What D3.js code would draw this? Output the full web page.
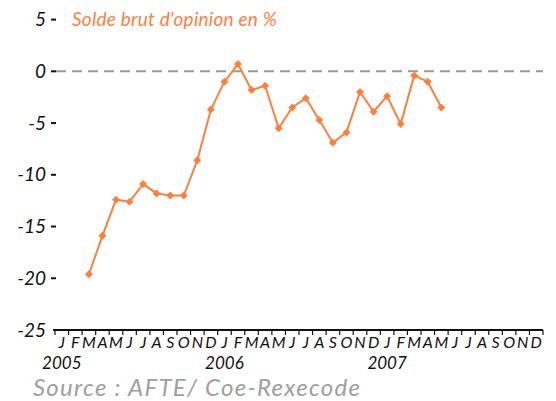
<!DOCTYPE html>
<html><head><meta charset="utf-8">
<script src="https://cdn.jsdelivr.net/npm/d3@7"></script>
<style>body{margin:0;background:#fff}svg{display:block}text{font-family:Lato,"Open Sans",sans-serif;font-style:italic}</style>
</head><body>
<svg id="c" width="556" height="401"></svg>
<script>
const monthLetters = ["J","F","M","A","M","J","J","A","S","O","N","D"];
const years = ["2005","2006","2007"];
const startIndex = 2; // series starts in March 2005
const values = [-19.6,-15.9,-12.4,-12.6,-10.9,-11.8,-12.0,-12.0,-8.6,-3.7,-1.0,0.7,-1.8,-1.4,-5.5,-3.5,-2.6,-4.7,-6.9,-5.9,-2.0,-3.9,-2.4,-5.1,-0.4,-1.0,-3.5];
const yTicks = [5,0,-5,-10,-15,-20,-25];
const title = "Solde brut d'opinion en %";
const source = "Source : AFTE/ Coe-Rexecode";

const svg = d3.select("#c");
const months = d3.range(years.length*12);
const x = d3.scaleBand().domain(months).range([55,543]);
const y = d3.scaleLinear().domain([-25,5]).range([330,19.6]);
const orange = "#ff7f3f";

// y tick labels
const yg = svg.append("g");
yTicks.forEach(v=>{
  yg.append("text").attr("x",46).attr("y",y(v)).attr("dy","0.35em")
    .attr("text-anchor","end").attr("font-size",19).attr("fill","#111").text(v);
  if(v!==-25) yg.append("line").attr("x1",51).attr("x2",56).attr("y1",y(v)).attr("y2",y(v))
    .attr("stroke","#111").attr("stroke-width",2);
});

// zero dashed line
svg.append("line").attr("x1",56).attr("x2",543).attr("y1",y(0)).attr("y2",y(0))
  .attr("stroke","#999").attr("stroke-width",2).attr("stroke-dasharray","10,6");

// x axis
svg.append("line").attr("x1",53).attr("x2",543).attr("y1",y(-25)).attr("y2",y(-25))
  .attr("stroke","#111").attr("stroke-width",2);
months.concat([months.length]).forEach(i=>{
  const xp = i<months.length ? x(i) : x.range()[1];
  svg.append("line").attr("x1",xp).attr("x2",xp).attr("y1",y(-25)).attr("y2",y(-25)+5)
    .attr("stroke","#111").attr("stroke-width",1.2);
});
months.forEach(i=>{
  svg.append("text").attr("x",x(i)+x.bandwidth()/2).attr("y",348)
    .attr("text-anchor","middle").attr("font-size",16).attr("fill","#111")
    .text(monthLetters[i%12]);
});
years.forEach((yr,k)=>{
  svg.append("text").attr("x",x(k*12)+x.bandwidth()/2).attr("y",369)
    .attr("text-anchor","middle").attr("font-size",17).attr("fill","#111").text(yr);
});

// line
const pts = values.map((v,i)=>[x(startIndex+i)+x.bandwidth()/2, y(v)]);
svg.append("path").attr("d",d3.line()(pts)).attr("fill","none")
  .attr("stroke",orange).attr("stroke-width",2);
svg.append("g").selectAll("path").data(pts).join("path")
  .attr("transform",d=>`translate(${d[0]},${d[1]}) rotate(45)`)
  .attr("d",d3.symbol(d3.symbolSquare,32)).attr("fill",orange);

svg.append("text").attr("x",72).attr("y",26).attr("font-size",19).attr("fill",orange)
  .attr("textLength",205).attr("lengthAdjust","spacing").text(title);
svg.append("text").attr("x",33).attr("y",396).attr("font-size",24).attr("fill","#a0a0a0")
  .attr("textLength",327).attr("lengthAdjust","spacing").text(source);
</script>
</body></html>
